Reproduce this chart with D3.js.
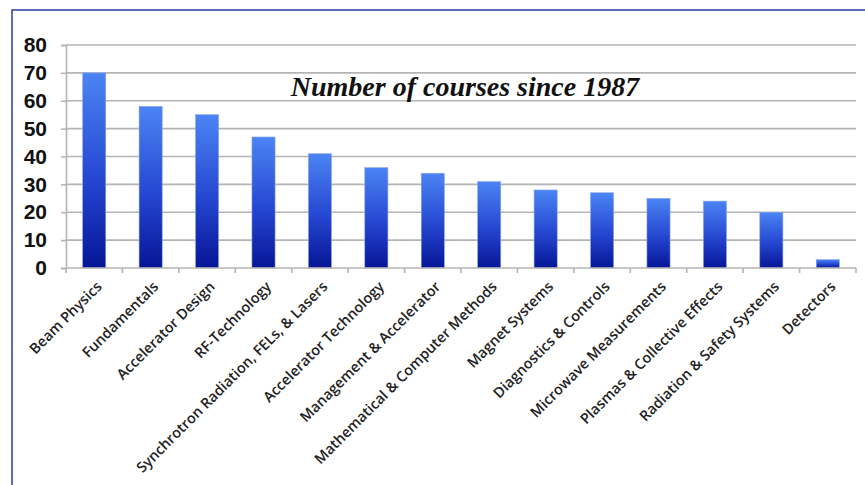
<!DOCTYPE html>
<html lang="en">
<head>
	<meta charset="UTF-8">
	<title>Number of courses since 1987</title>
	<script src="https://cdnjs.cloudflare.com/ajax/libs/d3/7.8.5/d3.min.js"></script>
	<style>
		body { margin: 0; background: #fff; }
		svg { display: block; }
	</style>
</head>
<body>
	<svg id="viz"></svg>
	<script>
		const categories = [
			'Beam Physics', 'Fundamentals', 'Accelerator Design', 'RF-Technology',
			'Synchrotron Radiation, FELs, & Lasers', 'Accelerator Technology',
			'Management & Accelerator', 'Mathematical & Computer Methods',
			'Magnet Systems', 'Diagnostics & Controls', 'Microwave Measurements',
			'Plasmas & Collective Effects', 'Radiation & Safety Systems', 'Detectors'
		];
		const courses = [70, 58, 55, 47, 41, 36, 34, 31, 28, 27, 25, 24, 20, 3];
		const yTicks = [0, 10, 20, 30, 40, 50, 60, 70, 80];
		const title = 'Number of courses since 1987';

		const width = 865, height = 485;
		const plotLeft = 66, plotRight = 856, plotTop = 45, plotBottom = 268;

		const svg = d3.select('#viz').attr('width', width).attr('height', height);

		// slide frame
		svg.append('rect')
			.attr('x', 12).attr('y', 10)
			.attr('width', width).attr('height', height)
			.attr('fill', 'none')
			.attr('stroke', '#2b3a9e')
			.attr('stroke-width', 1.5);

		const x = d3.scaleBand().domain(categories).range([plotLeft, plotRight]).paddingInner(0.59).paddingOuter(0.295);
		const xTicks = d3.scaleBand().domain(categories).range([plotLeft, plotRight]);
		const y = d3.scaleLinear().domain([0, 80]).range([plotBottom, plotTop]);

		const defs = svg.append('defs');
		const grad = defs.append('linearGradient')
			.attr('id', 'barGrad').attr('x1', 0).attr('y1', 0).attr('x2', 0).attr('y2', 1);
		grad.append('stop').attr('offset', '0%').attr('stop-color', '#4b84f4');
		grad.append('stop').attr('offset', '55%').attr('stop-color', '#2546d0');
		grad.append('stop').attr('offset', '100%').attr('stop-color', '#061596');

		// gridlines
		svg.append('g')
			.selectAll('line')
			.data(yTicks.filter(d => d > 0))
			.join('line')
			.attr('x1', plotLeft).attr('x2', plotRight)
			.attr('y1', d => y(d)).attr('y2', d => y(d))
			.attr('stroke', '#b4b4b4')
			.attr('stroke-width', 1.6);

		// y axis
		const yAxis = d3.axisLeft(y).tickValues(yTicks).tickSize(5).tickPadding(14);
		const gy = svg.append('g').attr('transform', `translate(${plotLeft},0)`).call(yAxis);
		gy.select('.domain').attr('stroke', '#b4b4b4').attr('stroke-width', 1.6);
		gy.selectAll('.tick line').attr('stroke', '#b4b4b4').attr('stroke-width', 1.6);
		gy.selectAll('.tick text')
			.attr('font-family', 'Liberation Sans, Arial, sans-serif')
			.attr('font-weight', 'bold')
			.attr('font-size', 21)
			.attr('fill', '#111');

		// bars
		svg.append('g')
			.selectAll('rect')
			.data(courses)
			.join('rect')
			.attr('x', (d, i) => x(categories[i]))
			.attr('y', d => y(d))
			.attr('width', x.bandwidth())
			.attr('height', d => y(0) - y(d))
			.attr('fill', 'url(#barGrad)')
			.attr('stroke', '#8fa8e8')
			.attr('stroke-width', 0.6);

		// x axis
		const gx = svg.append('g').attr('transform', `translate(0,${plotBottom})`);
		gx.append('line')
			.attr('x1', plotLeft).attr('x2', plotRight)
			.attr('stroke', '#b4b4b4').attr('stroke-width', 1.6);
		gx.selectAll('.xtick')
			.data(categories.concat(['__end']))
			.join('line')
			.attr('class', 'xtick')
			.attr('x1', (d, i) => i < categories.length ? xTicks(d) : plotRight)
			.attr('x2', (d, i) => i < categories.length ? xTicks(d) : plotRight)
			.attr('y1', 0).attr('y2', 5)
			.attr('stroke', '#b4b4b4').attr('stroke-width', 1.6);

		gx.selectAll('.xlabel')
			.data(categories)
			.join('text')
			.attr('class', 'xlabel')
			.attr('transform', d => `translate(${x(d) + x.bandwidth() / 2 + 5},16) rotate(-45)`)
			.attr('text-anchor', 'end')
			.attr('dy', '0.35em')
			.attr('font-family', 'Open Sans, Lato, sans-serif')
			.attr('font-weight', 600)
			.attr('font-size', 14.5)
			.attr('fill', '#222')
			.text(d => d);

		// title
		svg.append('text')
			.attr('x', 465).attr('y', 96)
			.attr('text-anchor', 'middle')
			.attr('font-family', 'Liberation Serif, Times New Roman, serif')
			.attr('font-style', 'italic')
			.attr('font-weight', 'bold')
			.attr('font-size', 28)
			.attr('fill', '#111')
			.text(title);
	</script>
</body>
</html>
